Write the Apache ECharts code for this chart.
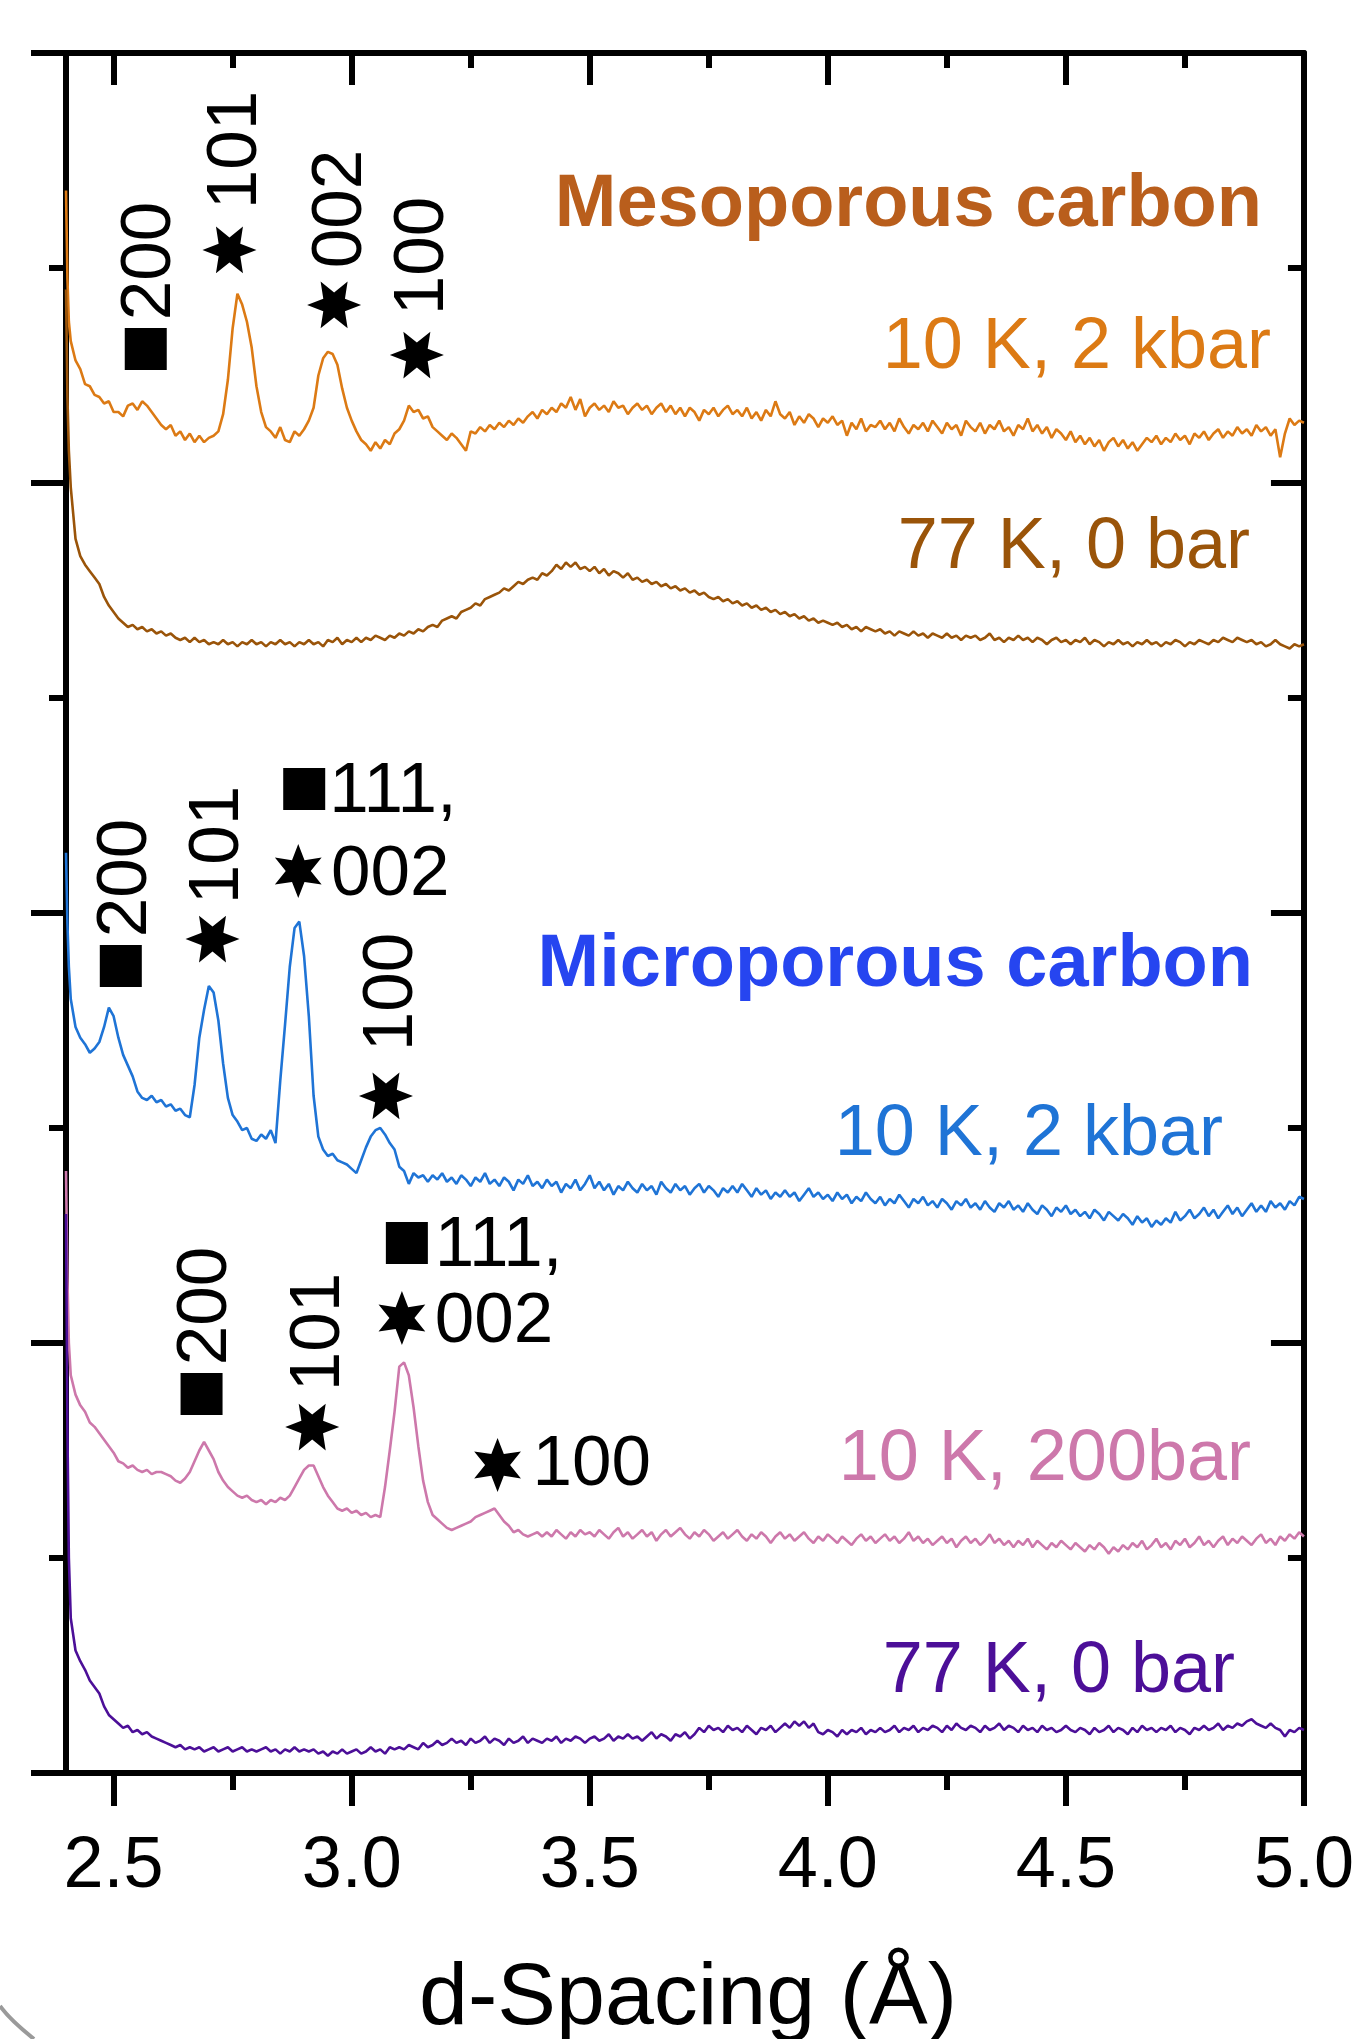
<!DOCTYPE html>
<html><head><meta charset="utf-8">
<script src="https://cdn.jsdelivr.net/npm/echarts@6/dist/echarts.min.js"></script>
<style>html,body{margin:0;padding:0;background:#fff}#main{width:1357px;height:2039px}</style>
</head><body><div id="main"></div>
<script>
// ---------- DATA ----------
const dSpacing = [2.400,2.403,2.406,
2.41,2.42,2.43,2.44,2.45,2.46,2.47,2.48,2.49,2.50,
2.51,2.52,2.53,2.54,2.55,2.56,2.57,2.58,2.59,2.60,
2.61,2.62,2.63,2.64,2.65,2.66,2.67,2.68,2.69,2.70,
2.71,2.72,2.73,2.74,2.75,2.76,2.77,2.78,2.79,2.80,
2.81,2.82,2.83,2.84,2.85,2.86,2.87,2.88,2.89,2.90,
2.91,2.92,2.93,2.94,2.95,2.96,2.97,2.98,2.99,3.00,
3.01,3.02,3.03,3.04,3.05,3.06,3.07,3.08,3.09,3.10,
3.11,3.12,3.13,3.14,3.15,3.16,3.17,3.18,3.19,3.20,
3.21,3.22,3.23,3.24,3.25,3.26,3.27,3.28,3.29,3.30,
3.31,3.32,3.33,3.34,3.35,3.36,3.37,3.38,3.39,3.40,
3.41,3.42,3.43,3.44,3.45,3.46,3.47,3.48,3.49,3.50,
3.51,3.52,3.53,3.54,3.55,3.56,3.57,3.58,3.59,3.60,
3.61,3.62,3.63,3.64,3.65,3.66,3.67,3.68,3.69,3.70,
3.71,3.72,3.73,3.74,3.75,3.76,3.77,3.78,3.79,3.80,
3.81,3.82,3.83,3.84,3.85,3.86,3.87,3.88,3.89,3.90,
3.91,3.92,3.93,3.94,3.95,3.96,3.97,3.98,3.99,4.00,
4.01,4.02,4.03,4.04,4.05,4.06,4.07,4.08,4.09,4.10,
4.11,4.12,4.13,4.14,4.15,4.16,4.17,4.18,4.19,4.20,
4.21,4.22,4.23,4.24,4.25,4.26,4.27,4.28,4.29,4.30,
4.31,4.32,4.33,4.34,4.35,4.36,4.37,4.38,4.39,4.40,
4.41,4.42,4.43,4.44,4.45,4.46,4.47,4.48,4.49,4.50,
4.51,4.52,4.53,4.54,4.55,4.56,4.57,4.58,4.59,4.60,
4.61,4.62,4.63,4.64,4.65,4.66,4.67,4.68,4.69,4.70,
4.71,4.72,4.73,4.74,4.75,4.76,4.77,4.78,4.79,4.80,
4.81,4.82,4.83,4.84,4.85,4.86,4.87,4.88,4.89,4.90,
4.91,4.92,4.93,4.94,4.95,4.96,4.97,4.98,4.99,5.00];

// Mesoporous carbon, 10 K, 2 kbar
const meso10K2kbar = [7.36,6.95,6.75,
6.66,6.57,6.53,6.46,6.45,6.41,6.40,6.37,6.38,6.33,
6.33,6.31,6.36,6.37,6.34,6.38,6.36,6.33,6.30,6.27,
6.25,6.27,6.22,6.24,6.20,6.23,6.19,6.22,6.19,6.21,
6.22,6.24,6.32,6.48,6.72,6.88,6.83,6.75,6.63,6.45,
6.33,6.26,6.24,6.21,6.26,6.20,6.19,6.24,6.22,6.25,
6.29,6.35,6.50,6.58,6.61,6.60,6.55,6.44,6.35,6.29,
6.24,6.20,6.18,6.15,6.19,6.16,6.20,6.18,6.23,6.25,
6.29,6.36,6.33,6.34,6.30,6.31,6.26,6.24,6.22,6.20,
6.23,6.21,6.18,6.15,6.24,6.23,6.26,6.24,6.27,6.25,
6.28,6.26,6.29,6.27,6.30,6.28,6.31,6.33,6.30,6.34,
6.32,6.35,6.33,6.37,6.35,6.40,6.34,6.39,6.31,6.35,
6.37,6.34,6.36,6.33,6.38,6.35,6.36,6.32,6.35,6.37,
6.34,6.36,6.32,6.35,6.37,6.33,6.36,6.32,6.35,6.31,
6.35,6.33,6.29,6.34,6.32,6.35,6.31,6.34,6.36,6.32,
6.34,6.31,6.35,6.30,6.33,6.29,6.34,6.31,6.38,6.32,
6.30,6.33,6.27,6.31,6.28,6.32,6.30,6.26,6.30,6.28,
6.31,6.27,6.29,6.22,6.28,6.25,6.30,6.24,6.27,6.26,
6.29,6.25,6.28,6.24,6.30,6.26,6.23,6.27,6.25,6.28,
6.24,6.29,6.26,6.23,6.28,6.25,6.27,6.22,6.29,6.26,
6.24,6.28,6.23,6.27,6.25,6.29,6.24,6.26,6.22,6.27,
6.25,6.30,6.24,6.27,6.23,6.26,6.21,6.25,6.23,6.20,
6.24,6.19,6.22,6.18,6.21,6.17,6.20,6.15,6.19,6.21,
6.17,6.20,6.16,6.19,6.15,6.18,6.21,6.19,6.22,6.18,
6.21,6.19,6.23,6.20,6.22,6.18,6.23,6.21,6.24,6.20,
6.23,6.25,6.21,6.24,6.22,6.26,6.23,6.25,6.22,6.27,
6.24,6.26,6.22,6.25,6.12,6.23,6.30,6.27,6.29,6.28];

// Mesoporous carbon, 77 K, 0 bar
const meso77K0bar = [6.90,6.40,6.15,
5.98,5.74,5.66,5.62,5.59,5.56,5.53,5.47,5.43,5.40,
5.37,5.35,5.33,5.34,5.32,5.33,5.31,5.32,5.30,5.31,
5.29,5.30,5.28,5.27,5.28,5.26,5.28,5.26,5.27,5.25,
5.26,5.25,5.27,5.25,5.26,5.24,5.26,5.25,5.27,5.25,
5.26,5.24,5.26,5.25,5.27,5.25,5.26,5.24,5.26,5.25,
5.27,5.25,5.26,5.24,5.27,5.26,5.28,5.25,5.27,5.26,
5.28,5.26,5.28,5.27,5.29,5.28,5.27,5.29,5.28,5.30,
5.29,5.31,5.30,5.32,5.31,5.33,5.34,5.33,5.36,5.37,
5.38,5.37,5.40,5.41,5.42,5.44,5.43,5.46,5.47,5.48,
5.49,5.51,5.50,5.52,5.54,5.53,5.55,5.56,5.55,5.58,
5.57,5.59,5.62,5.60,5.63,5.61,5.63,5.60,5.61,5.59,
5.61,5.58,5.60,5.57,5.59,5.58,5.56,5.58,5.55,5.56,
5.54,5.55,5.53,5.54,5.52,5.53,5.51,5.52,5.50,5.51,
5.49,5.50,5.48,5.49,5.47,5.46,5.47,5.45,5.46,5.44,
5.45,5.43,5.44,5.42,5.43,5.41,5.42,5.40,5.41,5.39,
5.40,5.38,5.39,5.37,5.38,5.36,5.37,5.35,5.36,5.35,
5.34,5.35,5.33,5.34,5.32,5.33,5.31,5.33,5.32,5.31,
5.32,5.30,5.31,5.29,5.31,5.30,5.29,5.31,5.29,5.30,
5.28,5.30,5.29,5.28,5.30,5.28,5.29,5.27,5.29,5.28,
5.29,5.27,5.28,5.30,5.27,5.28,5.26,5.28,5.27,5.29,
5.27,5.28,5.26,5.28,5.27,5.25,5.27,5.28,5.26,5.27,
5.25,5.27,5.26,5.28,5.25,5.27,5.26,5.24,5.26,5.25,
5.27,5.25,5.26,5.24,5.26,5.25,5.27,5.25,5.26,5.24,
5.26,5.25,5.27,5.26,5.24,5.26,5.25,5.27,5.26,5.25,
5.27,5.26,5.28,5.27,5.26,5.28,5.27,5.26,5.27,5.25,
5.26,5.24,5.25,5.27,5.25,5.24,5.23,5.25,5.24,5.25];

// Microporous carbon, 10 K, 2 kbar
const micro10K2kbar = [4.28,3.95,3.75,
3.60,3.47,3.42,3.39,3.35,3.37,3.40,3.47,3.56,3.52,
3.42,3.34,3.29,3.24,3.17,3.14,3.13,3.15,3.12,3.13,
3.10,3.11,3.08,3.09,3.06,3.05,3.20,3.42,3.55,3.66,
3.63,3.50,3.30,3.14,3.06,3.03,2.99,3.00,2.95,2.94,
2.97,2.95,2.99,2.93,3.22,3.48,3.75,3.93,3.96,3.80,
3.52,3.15,2.96,2.90,2.87,2.88,2.85,2.84,2.83,2.81,
2.79,2.85,2.91,2.96,2.99,3.00,2.97,2.93,2.90,2.82,
2.80,2.74,2.79,2.77,2.78,2.75,2.78,2.76,2.79,2.75,
2.77,2.74,2.78,2.76,2.73,2.77,2.75,2.79,2.74,2.76,
2.73,2.77,2.75,2.71,2.76,2.74,2.78,2.73,2.75,2.72,
2.76,2.73,2.75,2.70,2.74,2.72,2.76,2.71,2.74,2.78,
2.72,2.75,2.71,2.74,2.69,2.73,2.71,2.75,2.72,2.70,
2.74,2.71,2.73,2.69,2.75,2.72,2.70,2.74,2.71,2.73,
2.69,2.72,2.74,2.70,2.73,2.71,2.68,2.72,2.70,2.73,
2.70,2.74,2.71,2.68,2.72,2.69,2.71,2.67,2.70,2.68,
2.71,2.68,2.70,2.66,2.69,2.72,2.68,2.70,2.67,2.69,
2.66,2.70,2.67,2.69,2.65,2.68,2.66,2.70,2.67,2.65,
2.68,2.64,2.67,2.65,2.69,2.66,2.63,2.67,2.65,2.68,
2.64,2.66,2.63,2.67,2.65,2.62,2.66,2.64,2.67,2.63,
2.65,2.62,2.66,2.63,2.61,2.65,2.63,2.66,2.62,2.64,
2.61,2.65,2.62,2.60,2.64,2.62,2.59,2.63,2.61,2.64,
2.60,2.62,2.59,2.61,2.58,2.62,2.60,2.57,2.61,2.59,
2.57,2.60,2.58,2.55,2.59,2.56,2.58,2.54,2.57,2.55,
2.58,2.56,2.61,2.57,2.59,2.62,2.58,2.60,2.63,2.59,
2.62,2.58,2.61,2.64,2.60,2.63,2.59,2.62,2.65,2.61,
2.64,2.61,2.66,2.63,2.65,2.62,2.66,2.64,2.68,2.67];

// Microporous carbon, 10 K, 200 bar
const micro10K200bar = [2.80,2.30,2.00,
1.85,1.76,1.71,1.68,1.63,1.61,1.58,1.55,1.52,1.49,
1.45,1.44,1.42,1.43,1.41,1.40,1.41,1.39,1.40,1.40,
1.39,1.38,1.36,1.35,1.37,1.40,1.45,1.50,1.54,1.50,
1.46,1.40,1.36,1.33,1.31,1.29,1.28,1.29,1.27,1.26,
1.27,1.25,1.27,1.26,1.28,1.27,1.29,1.33,1.37,1.41,
1.43,1.43,1.38,1.33,1.29,1.26,1.23,1.22,1.23,1.21,
1.22,1.20,1.21,1.19,1.20,1.19,1.33,1.50,1.68,1.89,
1.91,1.85,1.70,1.52,1.36,1.26,1.20,1.18,1.16,1.14,
1.13,1.14,1.15,1.16,1.17,1.19,1.20,1.21,1.22,1.23,
1.20,1.17,1.15,1.12,1.13,1.11,1.10,1.11,1.12,1.10,
1.12,1.10,1.13,1.11,1.09,1.12,1.10,1.13,1.11,1.12,
1.10,1.13,1.11,1.09,1.12,1.14,1.10,1.12,1.09,1.11,
1.13,1.10,1.12,1.08,1.11,1.13,1.10,1.12,1.14,1.11,
1.09,1.12,1.10,1.13,1.11,1.08,1.10,1.12,1.09,1.11,
1.13,1.10,1.08,1.11,1.09,1.12,1.10,1.07,1.10,1.12,
1.09,1.11,1.08,1.10,1.12,1.09,1.07,1.10,1.08,1.11,
1.09,1.07,1.10,1.08,1.06,1.09,1.11,1.08,1.10,1.07,
1.09,1.11,1.08,1.10,1.07,1.09,1.12,1.08,1.10,1.07,
1.09,1.06,1.08,1.10,1.07,1.09,1.05,1.08,1.10,1.07,
1.09,1.06,1.08,1.11,1.07,1.09,1.06,1.08,1.05,1.08,
1.06,1.09,1.05,1.08,1.06,1.04,1.07,1.05,1.08,1.06,
1.04,1.07,1.05,1.03,1.06,1.04,1.07,1.05,1.02,1.05,
1.03,1.06,1.04,1.07,1.05,1.08,1.04,1.06,1.09,1.05,
1.07,1.04,1.08,1.06,1.09,1.05,1.07,1.10,1.06,1.08,
1.05,1.08,1.10,1.06,1.09,1.07,1.10,1.08,1.06,1.09,
1.11,1.07,1.09,1.06,1.10,1.08,1.11,1.09,1.12,1.10];

// Microporous carbon, 77 K, 0 bar
const micro77K0bar = [2.60,1.60,1.00,
0.72,0.57,0.52,0.48,0.43,0.40,0.37,0.31,0.27,0.25,
0.23,0.21,0.22,0.19,0.20,0.18,0.19,0.17,0.16,0.15,
0.14,0.13,0.12,0.13,0.11,0.12,0.11,0.12,0.10,0.11,
0.12,0.10,0.11,0.12,0.10,0.11,0.12,0.10,0.11,0.10,
0.11,0.12,0.10,0.11,0.09,0.11,0.10,0.12,0.10,0.11,
0.10,0.11,0.09,0.10,0.08,0.10,0.09,0.11,0.09,0.10,
0.11,0.09,0.10,0.12,0.10,0.11,0.09,0.12,0.11,0.12,
0.11,0.13,0.12,0.11,0.14,0.12,0.13,0.15,0.13,0.14,
0.16,0.14,0.15,0.13,0.16,0.14,0.15,0.17,0.14,0.16,
0.15,0.13,0.16,0.14,0.15,0.17,0.14,0.16,0.15,0.14,
0.16,0.15,0.17,0.14,0.16,0.15,0.17,0.16,0.14,0.16,
0.17,0.15,0.16,0.18,0.15,0.17,0.16,0.18,0.16,0.17,
0.15,0.17,0.19,0.16,0.18,0.17,0.15,0.18,0.17,0.19,
0.16,0.18,0.21,0.19,0.22,0.20,0.21,0.19,0.22,0.20,
0.21,0.19,0.22,0.20,0.18,0.21,0.20,0.22,0.19,0.21,
0.23,0.21,0.24,0.22,0.24,0.21,0.23,0.19,0.18,0.20,
0.19,0.17,0.20,0.18,0.20,0.19,0.21,0.18,0.20,0.19,
0.21,0.19,0.20,0.22,0.19,0.21,0.20,0.22,0.19,0.21,
0.20,0.22,0.21,0.19,0.22,0.20,0.23,0.21,0.20,0.22,
0.21,0.19,0.22,0.20,0.21,0.23,0.20,0.22,0.21,0.19,
0.22,0.20,0.21,0.19,0.22,0.20,0.21,0.19,0.20,0.22,
0.20,0.19,0.21,0.20,0.18,0.21,0.19,0.20,0.22,0.19,
0.21,0.20,0.18,0.21,0.19,0.22,0.20,0.21,0.19,0.21,
0.20,0.22,0.19,0.21,0.20,0.18,0.21,0.20,0.22,0.20,
0.21,0.23,0.20,0.22,0.21,0.23,0.22,0.24,0.25,0.23,
0.22,0.21,0.23,0.21,0.20,0.17,0.20,0.19,0.21,0.20];

const xMajorTicks = [2.5, 3.0, 3.5, 4.0, 4.5, 5.0];
const xMinorTicks = [2.75, 3.25, 3.75, 4.25, 4.75];

// annotation anchors in data coordinates (d-spacing, intensity)
const squareMarks = [[2.5675,6.623],[2.5151,3.753],[2.6847,1.763],[2.9003,4.577],[3.1159,2.465]];
const starMarks = [ // [x, y, rotated]
  [2.7433,7.084,1],[2.9631,6.828,1],[3.1369,6.595,1],
  [2.7077,3.879,1],[2.8878,4.195,0],[3.0720,3.149,1],
  [2.9171,1.609,1],[3.1055,2.116,0],[3.3064,1.433,0]];
const peakTexts = [ // [text, x, y, rotated]
  ['200',2.5654,7.033,1],['101',2.7454,7.549,1],['002',2.9652,7.274,1],['100',3.1390,7.056,1],
  ['200',2.5151,4.163,1],['101',2.7077,4.316,1],['111,',2.9527,4.581,0],['002',2.9568,4.195,0],['100',3.0720,3.633,1],
  ['200',2.6826,2.172,1],['101',2.9192,2.051,1],['111,',3.1745,2.470,0],['002',3.1745,2.112,0],['100',3.3797,1.447,0]];

const seriesLabels = [
  {text:'Mesoporous carbon', x:1262, y:206, color:'#B95E1C', weight:'bold', size:74},
  {text:'10 K, 2 kbar', x:1271, y:348, color:'#DC7A14', weight:'normal', size:72},
  {text:'77 K, 0 bar', x:1250, y:548, color:'#9A5409', weight:'normal', size:72},
  {text:'Microporous carbon', x:1253, y:966, color:'#2645F0', weight:'bold', size:74},
  {text:'10 K, 2 kbar', x:1223, y:1135, color:'#1F74D6', weight:'normal', size:72},
  {text:'10 K, 200bar', x:1251, y:1460, color:'#CD78AB', weight:'normal', size:72},
  {text:'77 K, 0 bar', x:1235, y:1672, color:'#4C0F98', weight:'normal', size:72}
];

// ---------- CHART ----------
const FONT = '"Liberation Sans", Arial, Helvetica, sans-serif';
const chart = echarts.init(document.getElementById('main'), null, {renderer:'canvas'});
const pair = arr => dSpacing.map((x,i)=>[x, arr[i]]);
const lineSeries = (name, arr, color) => ({
  name, type:'line', data: pair(arr), showSymbol:false, symbol:'none',
  xAxisIndex:0, yAxisIndex:0, lineStyle:{color, width:2.6}, itemStyle:{color},
  animation:false, z:3
});
const AX = {color:'#000', width:6};
const xBase = {type:'value', min:2.4, max:5.0, splitLine:{show:false}};
const yBase = {type:'value', min:0, max:8, interval:2, splitLine:{show:false}, minorSplitLine:{show:false}, axisLabel:{show:false}};

chart.setOption({
  animation:false,
  backgroundColor:'#fff',
  grid:{left:66, right:49, top:53, bottom:266, containLabel:false},
  xAxis:[
    Object.assign({}, xBase, {position:'bottom',
      axisLine:{show:true, onZero:false, lineStyle:AX},
      axisTick:{show:true, customValues:xMajorTicks, length:33, inside:false, lineStyle:AX},
      axisLabel:{show:true, customValues:xMajorTicks, formatter:v=>Number(v).toFixed(1), fontSize:72, fontFamily:FONT, color:'#000', margin:58}}),
    Object.assign({}, xBase, {position:'bottom',
      axisLine:{show:false, onZero:false},
      axisTick:{show:true, customValues:xMinorTicks, length:17, inside:false, lineStyle:AX},
      axisLabel:{show:false}}),
    Object.assign({}, xBase, {position:'top',
      axisLine:{show:true, onZero:false, lineStyle:AX},
      axisTick:{show:true, customValues:xMajorTicks, length:32, inside:true, lineStyle:AX},
      axisLabel:{show:false}}),
    Object.assign({}, xBase, {position:'top',
      axisLine:{show:false, onZero:false},
      axisTick:{show:true, customValues:xMinorTicks, length:15, inside:true, lineStyle:AX},
      axisLabel:{show:false}})
  ],
  yAxis:[
    Object.assign({}, yBase, {position:'left',
      axisLine:{show:true, onZero:false, lineStyle:AX},
      axisTick:{show:true, length:35, inside:false, lineStyle:AX},
      minorTick:{show:true, splitNumber:2, length:17, lineStyle:AX}}),
    Object.assign({}, yBase, {position:'right',
      axisLine:{show:true, onZero:false, lineStyle:AX},
      axisTick:{show:true, length:33, inside:true, lineStyle:AX},
      minorTick:{show:true, splitNumber:2, length:16, lineStyle:AX}})
  ],
  series:[
    lineSeries('Meso 10 K, 2 kbar', meso10K2kbar, '#DC7A14'),
    lineSeries('Meso 77 K, 0 bar', meso77K0bar, '#9A5409'),
    lineSeries('Micro 10 K, 2 kbar', micro10K2kbar, '#1F74D6'),
    lineSeries('Micro 10 K, 200bar', micro10K200bar, '#CD78AB'),
    lineSeries('Micro 77 K, 0 bar', micro77K0bar, '#4C0F98')
  ]
});

// ---------- ANNOTATIONS ----------
function starPoints(cx, cy, R, r, rotated){
  const pts = [];
  const a0 = rotated ? 0 : Math.PI/2;
  for (let k=0;k<12;k++){
    const a = a0 + k*Math.PI/6;
    const rad = (k%2===0) ? R : r;
    pts.push([cx + rad*Math.cos(a), cy - rad*Math.sin(a)]);
  }
  return pts;
}
const toPx = (x,y) => chart.convertToPixel({xAxisIndex:0, yAxisIndex:0}, [x,y]);
const graphics = [];
squareMarks.forEach(([x,y])=>{
  const [px,py] = toPx(x,y);
  graphics.push({type:'rect', shape:{x:px-21, y:py-21, width:42, height:42}, style:{fill:'#000'}, z:10});
});
starMarks.forEach(([x,y,rot])=>{
  const [px,py] = toPx(x,y);
  graphics.push({type:'polygon', shape:{points:starPoints(px,py,27,12.5,rot)}, style:{fill:'#000'}, z:10});
});
peakTexts.forEach(([t,x,y,rot])=>{
  let [px,py] = toPx(x,y);
  if (rot) px += 6; else py += 4;
  graphics.push({type:'text', x:px, y:py, rotation: rot ? Math.PI/2 : 0, z:10,
    style:{text:t, font:'71px ' + FONT, fill:'#000',
      align: rot ? 'center' : 'left', textAlign: rot ? 'center' : 'left',
      verticalAlign:'middle', textVerticalAlign:'middle'}});
});
seriesLabels.forEach(l=>{
  graphics.push({type:'text', x:l.x, y:l.y, z:10,
    style:{text:l.text, font: l.weight + ' ' + l.size + 'px ' + FONT, fill:l.color,
      align:'right', textAlign:'right', verticalAlign:'middle', textVerticalAlign:'middle'}});
});
graphics.push({type:'text', x:688, y:2000, z:10,
  style:{text:'d-Spacing (Å)', font:'88px ' + FONT, fill:'#000',
    align:'center', textAlign:'center', verticalAlign:'middle', textVerticalAlign:'middle'}});
graphics.push({type:'bezierCurve', shape:{x1:0, y1:2006, x2:34, y2:2039, cpx1:10, cpy1:2020}, style:{stroke:'#9a9a9a', lineWidth:4, fill:null}, z:10});
chart.setOption({graphic:{elements:graphics}});
</script>
</body></html>
